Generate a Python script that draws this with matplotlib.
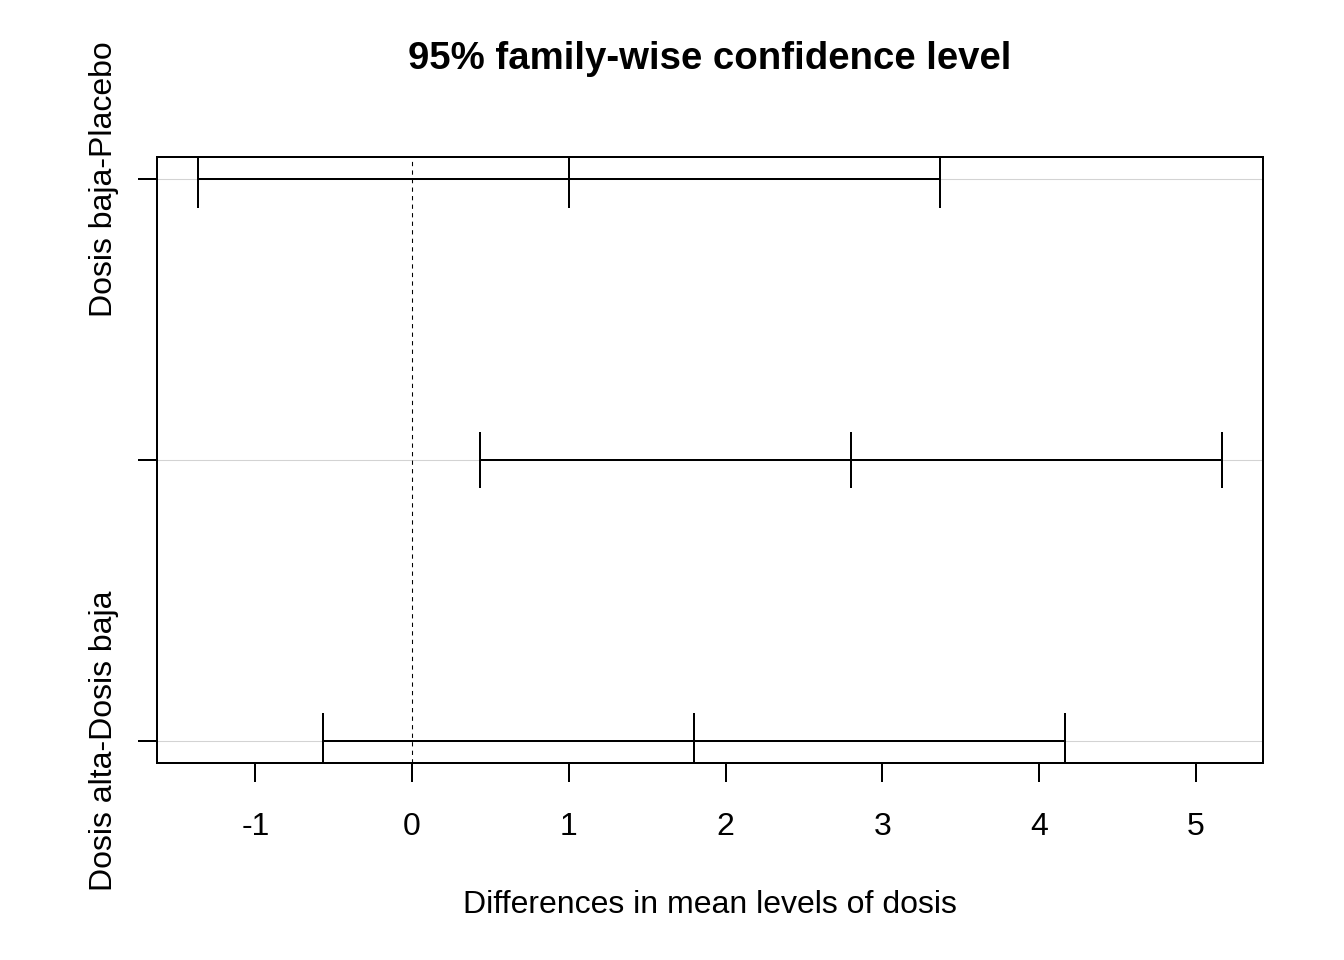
import matplotlib.pyplot as plt
import matplotlib as mpl
import numpy as np

mpl.rcParams['font.family'] = ['Liberation Sans', 'DejaVu Sans']

# TukeyHSD results (dosis)
comparisons = ["Dosis baja-Placebo", "Dosis alta-Placebo", "Dosis alta-Dosis baja"]
diff = [1.0, 2.8, 1.8]
lwr = [-1.366, 0.434, -0.566]
upr = [3.366, 5.166, 4.166]
# R drops the middle label because it overlaps
shown_labels = ["Dosis baja-Placebo", "", "Dosis alta-Dosis baja"]

n = len(comparisons)
yvals = np.arange(n, 0, -1)

fig = plt.figure(figsize=(7, 5), dpi=192)
ax = fig.add_axes([157 / 1344, 1 - 763 / 960, (1263 - 157) / 1344, (763 - 157) / 960])

lo, hi = min(lwr), max(upr)
ax.set_xlim(lo - 0.04 * (hi - lo), hi + 0.04 * (hi - lo))
ax.set_ylim(1 - 0.04 * (n - 1), n + 0.04 * (n - 1))

for y in yvals:
    ax.axhline(y, color="lightgray", lw=0.4, zorder=1)
ax.axvline(0, color="black", lw=0.4, ls=(0, (4, 4)), zorder=1)

ax.hlines(yvals, lwr, upr, color="black", lw=0.75, zorder=2)
for vals in (lwr, diff, upr):
    ax.vlines(vals, yvals - 0.1, yvals + 0.1, color="black", lw=0.75, zorder=2)

ax.set_xticks(np.arange(-1, 6))
ax.set_xticklabels([str(v) for v in range(-1, 6)])
ax.set_yticks(yvals)
ax.set_yticklabels(shown_labels, rotation=90, va="center", fontsize=12)
ax.tick_params(axis="x", length=7.2, width=0.75, pad=11, labelsize=12)
ax.tick_params(axis="y", length=7.2, width=0.75, pad=7)
for s in ax.spines.values():
    s.set_linewidth(0.75)

ax.set_xlabel("Differences in mean levels of dosis", fontsize=12, labelpad=18)
ax.set_title("95% family-wise confidence level", fontsize=14.4, fontweight="bold", pad=33)

fig.savefig("out.png", dpi=192)
